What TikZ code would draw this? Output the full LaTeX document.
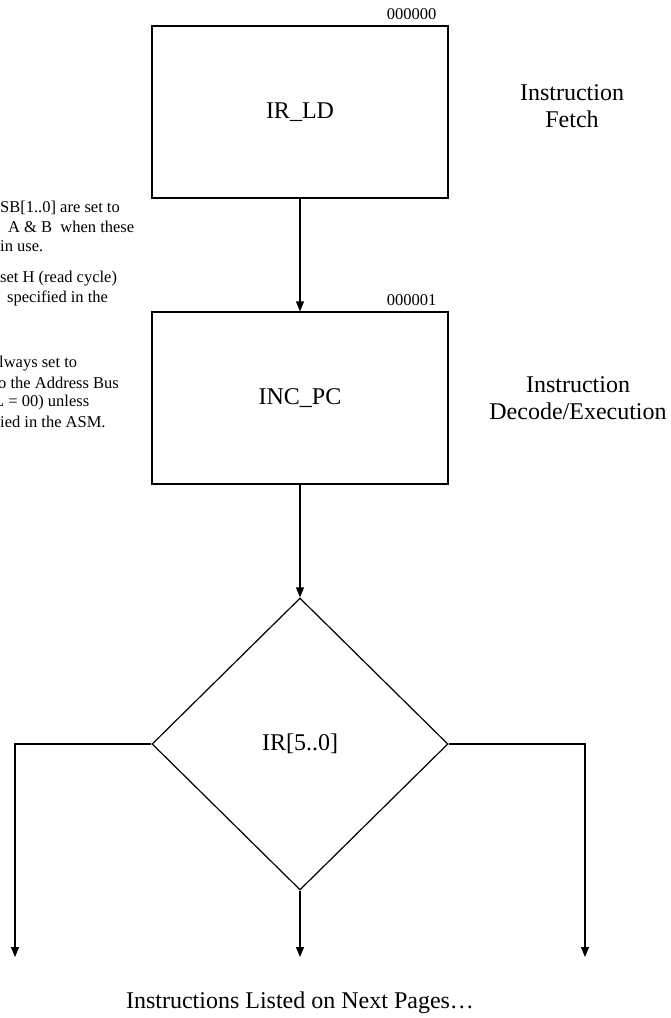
\documentclass[tikz,border=0pt]{standalone}
\usepackage{fontspec}
\setmainfont{Liberation Serif}
\usetikzlibrary{shapes.geometric,arrows.meta}
\newcommand{\asmbig}{\fontsize{24}{27}\selectfont}
\newcommand{\asmsmall}{\fontsize{16.5}{20}\selectfont}
\begin{document}
\begin{tikzpicture}[x=1pt, y=-1pt]

\tikzstyle{box1}=[rectangle, draw, line width=1.2pt, minimum width=296pt, minimum height=172pt, inner sep=0pt, font=\asmbig]
\tikzstyle{box2}=[diamond, draw, line width=1.2pt, minimum width=296pt, minimum height=292pt, inner sep=0pt, font=\asmbig]
\tikzstyle{state}=[inner sep=2pt, font=\asmsmall]
\tikzstyle{note}=[anchor=west, inner sep=0pt, font=\asmsmall]
\tikzstyle{phase}=[align=center, font=\asmbig]
\tikzstyle{arrow}=[-{Triangle[length=10pt,width=8pt]}, line width=1.2pt]

\useasboundingbox (0,0) rectangle (670,1018);

\node (A) [box1] at (300,112)  {IR\_LD};
\node (B) [box1] at (300,398)  {INC\_PC};
\node (C) [box2] at (300,744)  {IR[5..0]};

\node (SA) [state, anchor=south east] at ([xshift=-10pt,yshift=4pt]A.north east) {000000};
\node (SB) [state, anchor=south east] at ([xshift=-10pt,yshift=4pt]B.north east) {000001};

\node (F) [phase] at (572,106) {Instruction\\Fetch};
\node (E) [phase] at (578,398) {Instruction\\Decode/Execution};

% notes cut at the left edge
\node (N1) [note] at (0,208)  {SB[1..0] are set to};
\node (N2) [note] at (8,227)  {A \& B\ \ when these};
\node (N3) [note] at (0,246)  {in use.};
\node (N4) [note] at (0,279)  {set H (read cycle)};
\node (N5) [note] at (7,298)  {specified in the};
\node (N6) [note] at (-1,364) {lways set to};
\node (N7) [note] at (-2,383) {o the Address Bus};
\node (N8) [note] at (-6,403) {L = 00) unless};
\node (N9) [note] at (0,422)  {ied in the ASM.};

\coordinate (L) at (15,957);
\coordinate (M) at (300,957);
\coordinate (R) at (585,957);

\draw [arrow] (A) -- (B);
\draw [arrow] (B) -- (C);
\draw [arrow] (C.west) -| (L);
\draw [arrow] (C.south) -- (M);
\draw [arrow] (C.east) -| (R);

\node (T) [font=\asmbig] at (300,1003) {Instructions Listed on Next Pages…};

\end{tikzpicture}
\end{document}
